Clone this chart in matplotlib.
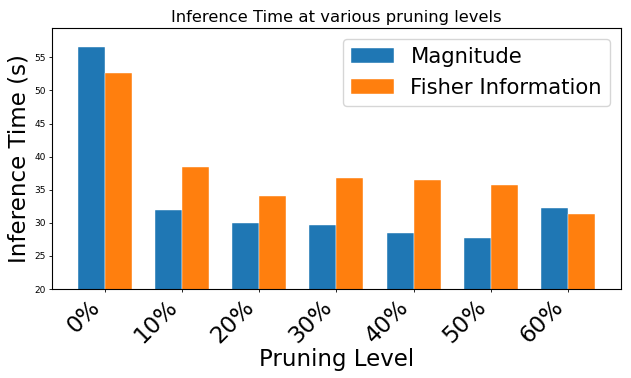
import numpy as np
import matplotlib
matplotlib.use("Agg")
import matplotlib.pyplot as plt

levels = ["0%", "10%", "20%", "30%", "40%", "50%", "60%"]
magnitude = [56.6, 32.0, 29.9, 29.6, 28.4, 27.7, 32.3]
fisher = [52.7, 38.4, 34.1, 36.8, 36.4, 35.7, 31.4]

x = np.arange(len(levels))
w = 0.35

fig = plt.figure(figsize=(6.31, 3.78), dpi=100)
ax = fig.add_axes([0.0824, 0.2354, 0.9016, 0.6906])
ax.bar(x - w / 2, magnitude, w, label="Magnitude", color="#1f77b4", edgecolor="white", linewidth=0.3)
ax.bar(x + w / 2, fisher, w, label="Fisher Information", color="#ff7f0e", edgecolor="white", linewidth=0.3)
ax.set_ylim(bottom=20)
ax.set_xticks(x)
ax.set_xticklabels(levels, rotation=45, ha="right", fontsize=16.5)
ax.tick_params(axis="y", labelsize=6.5, length=2.5, width=0.6, pad=2)
ax.tick_params(axis="x", length=2.5, width=0.6, pad=2)
ax.set_xlabel("Pruning Level", fontsize=16.5, labelpad=0)
ax.set_ylabel("Inference Time (s)", fontsize=16.6, labelpad=3)
ax.set_title("Inference Time at various pruning levels", fontsize=11.8, pad=4)
ax.legend(fontsize=15.2, loc="upper right")
for s in ax.spines.values():
    s.set_linewidth(0.8)
fig.savefig("out.png", dpi=100)
